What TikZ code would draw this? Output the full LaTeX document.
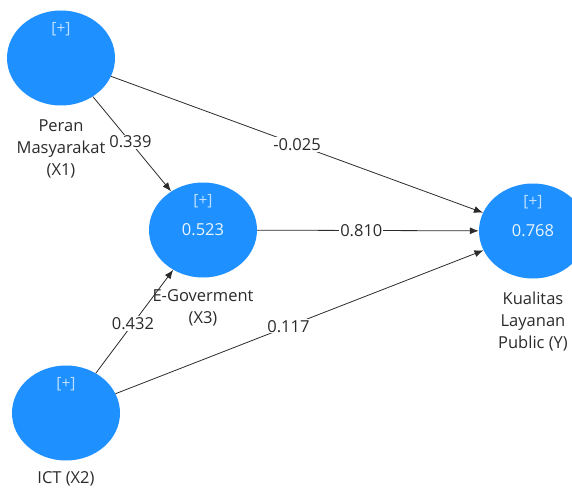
\documentclass[tikz,border=0pt]{standalone}
\usepackage{fontspec}
\setmainfont{Open Sans}
\usepackage{tikz}
\usetikzlibrary{arrows.meta,shapes.geometric,positioning}
\definecolor{plsBlue}{HTML}{1E90FF}
\definecolor{plsInk}{HTML}{2B2B2B}
\definecolor{plsTag}{HTML}{BFE0FF}
\definecolor{plsValue}{HTML}{EAF5FF}
\tikzset{
    pls/construct/.style={
        ellipse, fill=plsBlue, draw=none,
        minimum width=108pt, minimum height=95pt, inner sep=0pt,
        text=plsValue, font=\fontsize{16.5}{20}\selectfont
    },
    pls/tag/.style={
        text=plsTag, font=\fontsize{15.5}{18}\selectfont, inner sep=0pt
    },
    pls/name/.style={
        align=center, text=plsInk, inner sep=2pt,
        font=\fontsize{16.5}{22}\selectfont
    },
    pls/path/.style={
        draw=plsInk, line width=0.8pt,
        -{Latex[length=9pt,width=7pt]}
    },
    pls/coef/.style={
        fill=white, text=plsInk, inner sep=1pt,
        font=\fontsize{16.5}{20}\selectfont
    }
}
\begin{document}
\begin{tikzpicture}[x=1pt,y=-1pt]
    \useasboundingbox (0,0) rectangle (572,489);

    \node[pls/construct] (peran) at (61,58) {};
    \node[pls/construct] (egov) at (203,230) {0.523};
    \node[pls/construct] (ict) at (66,413) {};
    \node[pls/construct] (kualitas) at (533,231) {0.768};

    \node[pls/tag] (perantag) at ([yshift=-19pt]peran.north) {[+]};
    \node[pls/tag] (egovtag) at ([yshift=-19pt]egov.north) {[+]};
    \node[pls/tag] (icttag) at ([yshift=-19pt]ict.north) {[+]};
    \node[pls/tag] (kualitastag) at ([yshift=-19pt]kualitas.north) {[+]};

    \node[pls/name, below=12pt of peran] (peranname)
        {Peran\\Masyarakat\\(X1)};
    \node[pls/name, below=10pt of egov] (egovname)
        {E-Goverment\\(X3)};
    \node[pls/name, below=9pt of ict] (ictname) {ICT (X2)};
    \node[pls/name, below=11pt of kualitas] (kualitasname)
        {Kualitas\\Layanan\\Public (Y)};

    \draw[pls/path] (peran) -- node[pls/coef, pos=0.48] {0.339} (egov);
    \draw[pls/path] (peran) -- node[pls/coef] {-0.025} (kualitas);
    \draw[pls/path] (egov) -- node[pls/coef, pos=0.47] {0.810} (kualitas);
    \draw[pls/path] (ict) -- node[pls/coef, pos=0.48] {0.432} (egov);
    \draw[pls/path] (ict) -- node[pls/coef, pos=0.47] {0.117} (kualitas);
\end{tikzpicture}
\end{document}
